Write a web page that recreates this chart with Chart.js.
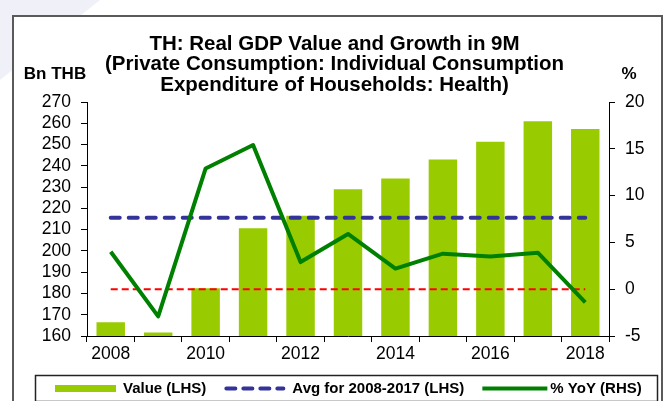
<!DOCTYPE html>
<html>
<head>
<meta charset="utf-8">
<script src="https://cdn.jsdelivr.net/npm/chart.js@4.4.1/dist/chart.umd.min.js"></script>
<style>
  html, body { margin: 0; padding: 0; background: #ffffff; }
  #wrap { width: 669px; height: 401px; }
</style>
</head>
<body>
<div id="wrap"><canvas id="c" width="669" height="401"></canvas></div>
<script>
// ---- data ----
const categories = ['2008','2009','2010','2011','2012','2013','2014','2015','2016','2017','2018'];
const tickLabels = ['2008','2010','2012','2014','2016','2018'];
const valueLHS = [166.5, 161.7, 182.5, 210.7, 216.5, 229.0, 234.0, 243.0, 251.3, 261.0, 257.3];
const avgLHS = [215.6, 215.6, 215.6, 215.6, 215.6, 215.6, 215.6, 215.6, 215.6, 215.6, 215.6];
const yoyRHS = [4.0, -2.9, 12.9, 15.4, 2.9, 5.9, 2.2, 3.8, 3.5, 3.9, -1.4];
const zeroRHS = [0, 0, 0, 0, 0, 0, 0, 0, 0, 0, 0];
const titleLines = ['TH: Real GDP Value and Growth in 9M',
                    '(Private Consumption: Individual Consumption',
                    'Expenditure of Households: Health)'];
const leftUnit = 'Bn THB';
const rightUnit = '%';
const legendNames = ['Value (LHS)', 'Avg for 2008-2017 (LHS)', '% YoY (RHS)'];

const FONT = "'Liberation Sans', Arial, sans-serif";
Chart.defaults.font.family = FONT;
Chart.defaults.color = '#000';

const BAR = '#99CC00', BLUE = '#333399', GREEN = '#008000', RED = '#FF0000';

const framePlugin = {
  id: 'frame',
  beforeDraw(chart) {
    const ctx = chart.ctx;
    ctx.save();
    // faint slide decoration top-left
    ctx.fillStyle = '#f0f1f8';
    ctx.beginPath();
    ctx.moveTo(0, 0); ctx.lineTo(100, 0); ctx.lineTo(0, 80); ctx.closePath();
    ctx.fill();
    // frame
    ctx.fillStyle = '#ffffff';
    ctx.fillRect(13, 16, 649, 400);
    ctx.strokeStyle = '#5a5a5a';
    ctx.lineWidth = 2;
    ctx.strokeRect(13, 16, 649, 400);
    ctx.restore();
  },
  afterDraw(chart) {
    const ctx = chart.ctx;
    ctx.save();
    // unit labels
    ctx.font = 'bold 17px ' + FONT;
    ctx.fillStyle = '#000';
    ctx.textAlign = 'center';
    ctx.textBaseline = 'middle';
    ctx.fillText(leftUnit, 55, 74);
    ctx.fillText(rightUnit, 629, 74);
    // legend
    ctx.strokeStyle = '#222';
    ctx.lineWidth = 1.5;
    ctx.strokeRect(35.5, 375.5, 622, 26);
    ctx.font = 'bold 15px ' + FONT;
    ctx.textAlign = 'left';
    const y = 388.5;
    let x = 55;
    const sw = 61, gapT = 7, gapI = 18;
    // item 1: bar
    ctx.fillStyle = BAR;
    ctx.fillRect(x, y - 3.5, sw, 7);
    ctx.fillStyle = '#000';
    ctx.fillText(legendNames[0], x + sw + gapT, y);
    x += sw + gapT + ctx.measureText(legendNames[0]).width + gapI;
    // item 2: dashed blue
    ctx.strokeStyle = BLUE; ctx.lineWidth = 4; ctx.lineCap = 'round';
    ctx.setLineDash([9, 8]);
    ctx.beginPath(); ctx.moveTo(x + 2, y); ctx.lineTo(x + sw - 2, y); ctx.stroke();
    ctx.setLineDash([]); ctx.lineCap = 'butt';
    ctx.fillText(legendNames[1], x + sw + gapT, y);
    x += sw + gapT + ctx.measureText(legendNames[1]).width + gapI;
    // item 3: green line
    ctx.strokeStyle = GREEN; ctx.lineWidth = 4;
    ctx.beginPath(); ctx.moveTo(x, y); ctx.lineTo(x + sw + 4, y); ctx.stroke();
    ctx.fillText(legendNames[2], x + sw + gapT, y);
    ctx.restore();
  }
};

new Chart(document.getElementById('c'), {
  type: 'bar',
  data: {
    labels: categories,
    datasets: [
      { type: 'line', label: legendNames[2], data: yoyRHS, yAxisID: 'y1',
        borderColor: GREEN, borderWidth: 4, pointRadius: 0, tension: 0, order: 0,
        borderJoinStyle: 'round' },
      { type: 'line', label: legendNames[1], data: avgLHS, yAxisID: 'y',
        borderColor: BLUE, borderWidth: 4, borderDash: [9, 9], borderCapStyle: 'round',
        pointRadius: 0, order: 1 },
      { type: 'line', label: 'zero', data: zeroRHS, yAxisID: 'y1',
        borderColor: RED, borderWidth: 2, borderDash: [7, 4], pointRadius: 0, order: 2 },
      { type: 'bar', label: legendNames[0], data: valueLHS, yAxisID: 'y',
        backgroundColor: BAR, barPercentage: 0.6, categoryPercentage: 1.0, order: 3 }
    ]
  },
  options: {
    responsive: false,
    animation: false,
    devicePixelRatio: 1,
    layout: { padding: { top: 0, bottom: 26, left: 0, right: 0 } },
    plugins: {
      legend: { display: false },
      tooltip: { enabled: false },
      title: {
        display: true,
        text: titleLines,
        color: '#000',
        font: { family: FONT, size: 20.5, weight: 'bold', lineHeight: 1.0 },
        padding: { top: 34, bottom: 6.5 }
      }
    },
    scales: {
      x: {
        offset: true,
        grid: { offset: true, drawOnChartArea: false, tickLength: 6, tickColor: '#000', color: '#000' },
        border: { color: '#000', width: 1 },
        ticks: {
          autoSkip: false, maxRotation: 0, padding: 2,
          font: { size: 17.5 }, color: '#000',
          callback: function(v, i) { const c = categories[i]; return tickLabels.includes(c) ? c : ''; }
        },
        afterFit(s) { s.height = 39; }
      },
      y: {
        position: 'left', min: 160, max: 270,
        ticks: { stepSize: 10, autoSkip: false, padding: 10, font: { size: 17.5 }, color: '#000' },
        grid: { drawOnChartArea: false, tickLength: 6, tickColor: '#000', color: '#000' },
        border: { color: '#000', width: 1 },
        afterFit(s) { s.width = 87; }
      },
      y1: {
        position: 'right', min: -5, max: 20,
        ticks: { stepSize: 5, autoSkip: false, padding: 10, font: { size: 17.5 }, color: '#000' },
        grid: { drawOnChartArea: false, tickLength: 6, tickColor: '#000', color: '#000' },
        border: { color: '#000', width: 1 },
        afterFit(s) { s.width = 60; }
      }
    }
  },
  plugins: [framePlugin]
});
</script>
</body>
</html>
